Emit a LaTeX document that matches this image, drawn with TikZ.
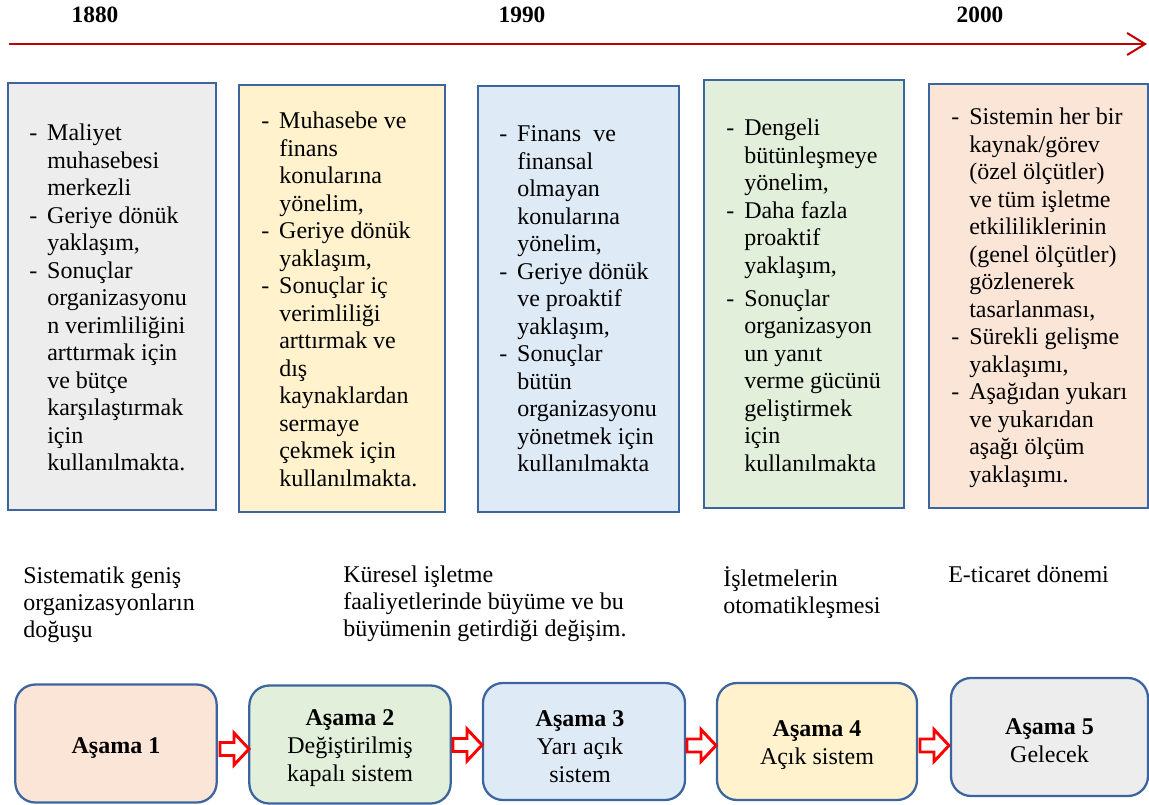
\documentclass[tikz,border=0pt]{standalone}
\usepackage{fontspec}
\setmainfont{Liberation Serif}
\usetikzlibrary{arrows.meta,calc}
\definecolor{edge}{RGB}{60,100,158}
\definecolor{tlred}{RGB}{192,0,0}
\definecolor{fgray}{RGB}{237,237,237}
\definecolor{fyellow}{RGB}{255,242,204}
\definecolor{fblue}{RGB}{222,235,247}
\definecolor{fgreen}{RGB}{226,239,218}
\definecolor{fpeach}{RGB}{251,229,214}
\newcommand{\itemcols}{@{}p{13.5pt}@{}l@{}}
\begin{document}
\begin{tikzpicture}[x=0.75pt,y=-0.75pt,
  year/.style={font=\fontsize{17.5}{20}\selectfont\bfseries, anchor=base, inner sep=0},
  timeline/.style={draw=tlred, line width=1.5pt, -{Straight Barb[length=13.5pt,width=16.5pt,line width=1.5pt]}},
  topbox/.style={draw=edge, line width=1.7pt, rectangle, inner sep=0},
  itemtext/.style={font=\fontsize{18}{20.625}\selectfont, anchor=base west, inner sep=0},
  caption/.style={font=\fontsize{18}{20.4}\selectfont, anchor=base west, inner sep=0},
  stagebox/.style={draw=edge, line width=1.7pt, rounded corners=15pt, inner sep=0,
    minimum width=151pt, minimum height=88.5pt},
  stagetext/.style={align=center, font=\fontsize{18}{21}\selectfont, inner sep=0},
  hollow/.style={draw=red, line width=2.2pt, fill=white, line join=miter}]
\useasboundingbox (0,0) rectangle (1149,805);

% years and time axis
\node[year] (y1880) at (95,23) {1880};
\node[year] (y1990) at (522,23) {1990};
\node[year] (y2000) at (980,23) {2000};
\coordinate (tstart) at (9,44);
\coordinate (tend) at (1147,44);
\draw[timeline] (tstart) -- (tend);

% period boxes
\node[topbox, fill=fgray,   minimum width=156pt,    minimum height=320.25pt] (b1) at (112,296.5) {};
\node[topbox, fill=fyellow, minimum width=154.5pt,  minimum height=320.25pt] (b2) at (342,298.5) {};
\node[topbox, fill=fblue,   minimum width=150.75pt, minimum height=319.5pt]  (b3) at (578.5,299) {};
\node[topbox, fill=fgreen,  minimum width=150pt,    minimum height=321pt]    (b4) at (804,294) {};
\node[topbox, fill=fpeach,  minimum width=164.25pt, minimum height=318pt]    (b5) at (1038.5,296) {};

\node[itemtext] (t1) at (29,141) {\begin{tabular}[t]{\itemcols}
-&Maliyet\\&muhasebesi\\&merkezli\\
-&Geriye dönük\\&yaklaşım,\\
-&Sonuçlar\\&organizasyonu\\&n verimliliğini\\&arttırmak için\\&ve bütçe\\&karşılaştırmak\\&için\\&kullanılmakta.
\end{tabular}};

\node[itemtext] (t2) at (261,129) {\begin{tabular}[t]{\itemcols}
-&Muhasebe ve\\&finans\\&konularına\\&yönelim,\\
-&Geriye dönük\\&yaklaşım,\\
-&Sonuçlar iç\\&verimliliği\\&arttırmak ve\\&dış\\&kaynaklardan\\&sermaye\\&çekmek için\\&kullanılmakta.
\end{tabular}};

\node[itemtext] (t3) at (499,142) {\begin{tabular}[t]{\itemcols}
-&Finans\ \ ve\\&finansal\\&olmayan\\&konularına\\&yönelim,\\
-&Geriye dönük\\&ve proaktif\\&yaklaşım,\\
-&Sonuçlar\\&bütün\\&organizasyonu\\&yönetmek için\\&kullanılmakta
\end{tabular}};

\node[itemtext] (t4) at (726,136) {\begin{tabular}[t]{\itemcols}
-&Dengeli\\&bütünleşmeye\\&yönelim,\\
-&Daha fazla\\&proaktif\\&yaklaşım,\\[4pt]
-&Sonuçlar\\&organizasyon\\&un yanıt\\&verme gücünü\\&geliştirmek\\&için\\&kullanılmakta
\end{tabular}};

\node[itemtext] (t5) at (951,125) {\begin{tabular}[t]{\itemcols}
-&Sistemin her bir\\&kaynak/görev\\&(özel ölçütler)\\&ve tüm işletme\\&etkililiklerinin\\&(genel ölçütler)\\&gözlenerek\\&tasarlanması,\\
-&Sürekli gelişme\\&yaklaşımı,\\
-&Aşağıdan yukarı\\&ve yukarıdan\\&aşağı ölçüm\\&yaklaşımı.
\end{tabular}};

% period captions
\node[caption] (c1) at (23,583) {\begin{tabular}[t]{@{}l@{}}Sistematik geniş\\organizasyonların\\doğuşu\end{tabular}};
\node[caption] (c2) at (343,582) {\begin{tabular}[t]{@{}l@{}}Küresel işletme\\faaliyetlerinde büyüme ve bu\\büyümenin getirdiği değişim.\end{tabular}};
\node[caption] (c3) at (723,586) {\begin{tabular}[t]{@{}l@{}}İşletmelerin\\otomatikleşmesi\end{tabular}};
\node[caption] (c4) at (948,582) {E-ticaret dönemi};

% stages
\node[stagebox, fill=fpeach]  (s1) at (116,743.5) {};
\node[stagebox, fill=fgreen]  (s2) at (350,744.5) {};
\node[stagebox, fill=fblue,   minimum width=151.5pt, minimum height=87.75pt] (s3) at (584,741.5) {};
\node[stagebox, fill=fyellow, minimum width=150pt,   minimum height=87.75pt] (s4) at (817,741.5) {};
\node[stagebox, fill=fgray,   minimum width=147.75pt, minimum height=88.5pt] (s5) at (1049.5,737) {};

\node[stagetext] (s1t) at ($(s1.center)+(0,5)$) {\textbf{Aşama 1}};
\node[stagetext] (s2t) at ($(s2.center)+(0,4)$) {\textbf{Aşama 2}\\Değiştirilmiş\\kapalı sistem};
\node[stagetext] (s3t) at ($(s3.center)+(-4,5)$) {\textbf{Aşama 3}\\Yarı açık\\sistem};
\node[stagetext] (s4t) at ($(s4.center)+(0,4)$) {\textbf{Aşama 4}\\Açık sistem};
\node[stagetext] (s5t) at ($(s5.center)+(0,4)$) {\textbf{Aşama 5}\\Gelecek};

% hollow block arrows between stages
\coordinate (a12) at (220,749);
\coordinate (a23) at (453,745);
\coordinate (a34) at (687,745.5);
\coordinate (a45) at (920,745.5);
\foreach \a in {a12,a23,a34,a45}{
  \draw[hollow] (\a) ++(0,-6.5) -- ++(14,0) -- ++(0,-9.5) -- ++(15,16) -- ++(-15,16) -- ++(0,-9.5) -- ++(-14,0) -- cycle;
}
\end{tikzpicture}
\end{document}
